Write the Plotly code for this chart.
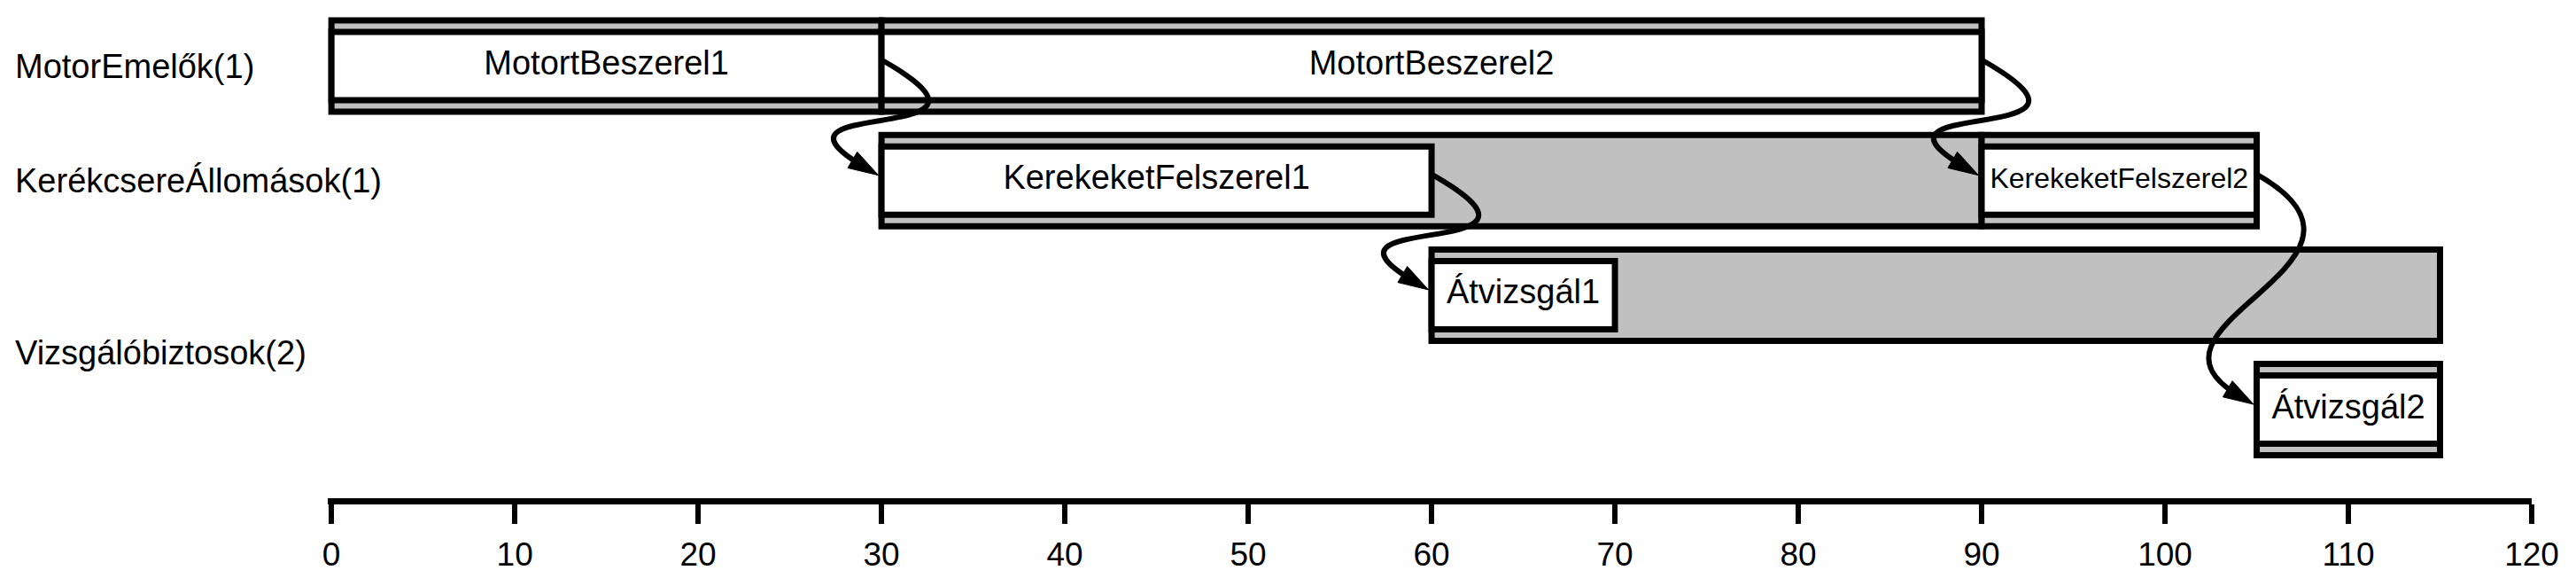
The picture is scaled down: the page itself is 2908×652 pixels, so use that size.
import math
import plotly.graph_objects as go

# ---------------- data ----------------
resources = ["MotorEmelők(1)", "KerékcsereÁllomások(1)", "Vizsgálóbiztosok(2)"]
resource_lanes = [[0], [1], [2, 3]]

tasks = ["MotortBeszerel1", "MotortBeszerel2", "KerekeketFelszerel1",
         "KerekeketFelszerel2", "Átvizsgál1", "Átvizsgál2"]
task_lane = [0, 0, 1, 1, 2, 3]
task_start = [0, 30, 30, 90, 60, 105]
task_end = [30, 90, 60, 105, 70, 115]
held_until = [30, 90, 90, 105, 115, 115]

link_from = ["MotortBeszerel1", "MotortBeszerel2", "KerekeketFelszerel1", "KerekeketFelszerel2"]
link_to = ["KerekeketFelszerel1", "KerekeketFelszerel2", "Átvizsgál1", "Átvizsgál2"]

x_ticks = [0, 10, 20, 30, 40, 50, 60, 70, 80, 90, 100, 110, 120]

# ---------------- style / geometry ----------------
W, H = 2908, 652
M_L, M_R, M_T, M_B = 362, 58, 0, 98
X_RANGE = [-0.2, 120]
LANE_PX = 129.2
FIRST_LANE_PX = 66.5
plot_w = W - M_L - M_R
plot_h = H - M_T - M_B
px_x = plot_w / (X_RANGE[1] - X_RANGE[0])
y_top = -FIRST_LANE_PX / LANE_PX
y_bot = y_top + plot_h / LANE_PX

OUTER_W = 103 / LANE_PX
INNER_W = 77 / LANE_PX
BORDER = 7
GRAY = "#c0c0c0"
FONT = "Liberation Sans, Arial, Helvetica, sans-serif"
LABEL_SIZE = 38
SMALL_LABEL = {"KerekeketFelszerel2": 32}
LABEL_LEFT_PX = 7

OUT_CTRL = (177, 100)   # px offset of first control point from start
IN_CTRL = (135, 80)     # px offset of second control point back from end
START_OFF, END_OFF = -7, -6
TIP_BACK = 3.5
HEAD_LEN, HEAD_HALF = 34, 10.5
LINE_W = 6

fig = go.Figure()

# outer (resource held) boxes
fig.add_trace(go.Bar(
    orientation="h", y=task_lane,
    x=[h - s for h, s in zip(held_until, task_start)], base=task_start,
    width=OUTER_W, marker=dict(color=GRAY, line=dict(color="black", width=BORDER)),
    showlegend=False, hoverinfo="skip"))
# inner (task) boxes
fig.add_trace(go.Bar(
    orientation="h", y=task_lane,
    x=[e - s for e, s in zip(task_end, task_start)], base=task_start,
    width=INNER_W, marker=dict(color="white", line=dict(color="black", width=BORDER)),
    showlegend=False, hoverinfo="skip"))
# task labels
fig.add_trace(go.Scatter(
    mode="text", x=[(s + e) / 2 for s, e in zip(task_start, task_end)], y=task_lane,
    text=tasks, textposition="middle center",
    textfont=dict(family=FONT, color="black", size=[SMALL_LABEL.get(t, LABEL_SIZE) for t in tasks]),
    showlegend=False, hoverinfo="skip"))

# resource labels
for name, lanes in zip(resources, resource_lanes):
    fig.add_annotation(
        xref="paper", yref="y", x=(LABEL_LEFT_PX - M_L) / plot_w,
        y=sum(lanes) / len(lanes), text=name, showarrow=False,
        xanchor="left", yanchor="middle",
        font=dict(family=FONT, size=LABEL_SIZE, color="black"))

# precedence arrows
ln = math.hypot(*IN_CTRL)
ux, uy = IN_CTRL[0] / ln, IN_CTRL[1] / ln
for a, b in zip(link_from, link_to):
    i, j = tasks.index(a), tasks.index(b)
    x0, y0 = task_end[i], task_lane[i] + START_OFF / LANE_PX
    x3 = task_start[j] - TIP_BACK / px_x
    y3 = task_lane[j] + END_OFF / LANE_PX
    sx, sy = 0.6 * HEAD_LEN * ux / px_x, 0.6 * HEAD_LEN * uy / LANE_PX
    p3 = (x3 - sx, y3 - sy)
    p1 = (x0 + OUT_CTRL[0] / px_x, y0 + OUT_CTRL[1] / LANE_PX)
    p2 = (p3[0] - IN_CTRL[0] / px_x, p3[1] - IN_CTRL[1] / LANE_PX)
    fig.add_shape(type="path", xref="x", yref="y",
                  path=f"M {x0},{y0} C {p1[0]},{p1[1]} {p2[0]},{p2[1]} {p3[0]},{p3[1]}",
                  line=dict(color="black", width=LINE_W))
    bx, by = -HEAD_LEN * ux, -HEAD_LEN * uy
    c1 = (x3 + (bx - HEAD_HALF * uy) / px_x, y3 + (by + HEAD_HALF * ux) / LANE_PX)
    c2 = (x3 + (bx + HEAD_HALF * uy) / px_x, y3 + (by - HEAD_HALF * ux) / LANE_PX)
    fig.add_shape(type="path", xref="x", yref="y",
                  path=f"M {x3},{y3} L {c1[0]},{c1[1]} L {c2[0]},{c2[1]} Z",
                  fillcolor="black", line=dict(color="black", width=1))

fig.update_layout(
    width=W, height=H, margin=dict(l=M_L, r=M_R, t=M_T, b=M_B),
    paper_bgcolor="white", plot_bgcolor="white", barmode="overlay",
    xaxis=dict(range=X_RANGE, showgrid=False, zeroline=False, showline=True,
               linecolor="black", linewidth=7, ticks="outside", ticklen=22,
               tickwidth=6, tickcolor="black", tickvals=x_ticks,
               ticktext=[str(v) for v in x_ticks], ticklabelstandoff=3,
               tickfont=dict(family=FONT, size=37, color="black")),
    yaxis=dict(range=[y_bot, y_top], visible=False),
)

fig.write_html("out.html")
